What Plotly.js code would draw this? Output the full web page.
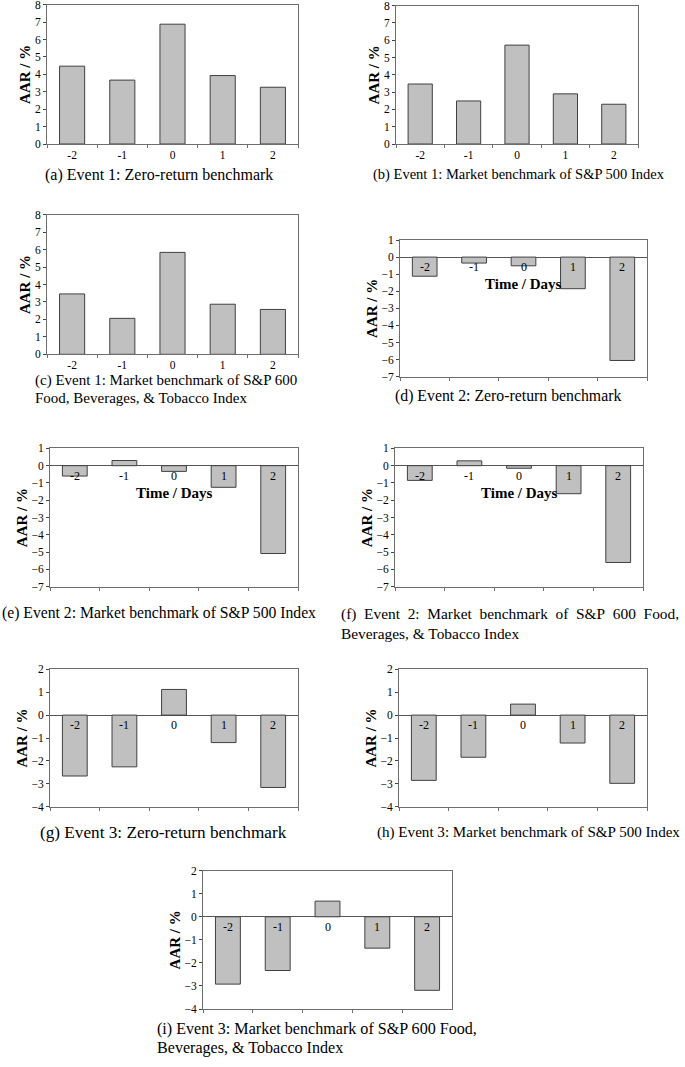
<!DOCTYPE html>
<html>
<head>
<meta charset="utf-8">
<script src="https://cdn.plot.ly/plotly-3.0.1.min.js"></script>
<style>html,body{margin:0;padding:0;background:#fff;}#chart{width:685px;height:1067px;}</style>
</head>
<body>
<div id="chart"></div>
<script>
// ---- data ----
const days = ['-2', '-1', '0', '1', '2'];
const aarA = [4.47, 3.67, 6.88, 3.93, 3.26];
const aarB = [3.47, 2.49, 5.72, 2.90, 2.30];
const aarC = [3.46, 2.06, 5.84, 2.87, 2.57];
const aarD = [-1.12, -0.35, -0.51, -1.85, -6.05];
const aarE = [-0.60, 0.30, -0.33, -1.25, -5.08];
const aarF = [-0.85, 0.28, -0.15, -1.62, -5.60];
const aarG = [-2.66, -2.26, 1.12, -1.20, -3.16];
const aarH = [-2.85, -1.84, 0.48, -1.22, -2.98];
const aarI = [-2.92, -2.33, 0.68, -1.36, -3.19];
const captions = [
  ['(a) Event 1: Zero-return benchmark'],
  ['(b) Event 1: Market benchmark of S&P 500 Index'],
  ['(c) Event 1: Market benchmark of S&P 600', 'Food, Beverages, & Tobacco Index'],
  ['(d) Event 2: Zero-return benchmark'],
  ['(e) Event 2: Market benchmark of S&P 500 Index'],
  ['(f) Event 2: Market benchmark of S&P 600 Food,', 'Beverages, & Tobacco Index'],
  ['(g) Event 3: Zero-return benchmark'],
  ['(h) Event 3: Market benchmark of S&P 500 Index'],
  ['(i) Event 3: Market benchmark of S&P 600 Food,', 'Beverages, & Tobacco Index']
];
const yTitle = 'AAR / %';
const xTitle = 'Time / Days';

// ---- layout geometry (pixels) ----
const W = 685, H = 1067;
const panels = [
  {vals: aarA, x0: 47,  x1: 298, y0: 4.7,   y1: 144,   range: [0, 8],  inside: false, capX: 43,  capY: [175], capSize: 16, wide: []},
  {vals: aarB, x0: 396, x1: 638, y0: 5.7,   y1: 144,   range: [0, 8],  inside: false, capX: 371, capY: [175], capSize: 14.5, wide: []},
  {vals: aarC, x0: 47,  x1: 298, y0: 214.7, y1: 354.3, range: [0, 8],  inside: false, capX: 33,  capY: [380, 398], capSize: 15, wide: []},
  {vals: aarD, x0: 400, x1: 647, y0: 240,   y1: 376.7, range: [-7, 1], inside: true, days: true, capX: 393, capY: [396], capSize: 15.8, wide: []},
  {vals: aarE, x0: 50,  x1: 298, y0: 448.4, y1: 586.7, range: [-7, 1], inside: true, days: true, capX: 0,   capY: [613], capSize: 15.7, wide: []},
  {vals: aarF, x0: 395, x1: 643, y0: 448.4, y1: 586.7, range: [-7, 1], inside: true, days: true, capX: 339, capY: [614, 633], capSize: 15.4, wide: [true, false]},
  {vals: aarG, x0: 50,  x1: 298, y0: 669.3, y1: 806.7, range: [-4, 2], inside: true, capX: 38,  capY: [832], capSize: 17.2, wide: []},
  {vals: aarH, x0: 399, x1: 647, y0: 669.3, y1: 806.7, range: [-4, 2], inside: true, capX: 375, capY: [832], capSize: 15.1, wide: []},
  {vals: aarI, x0: 203, x1: 452, y0: 870.7, y1: 1009,  range: [-4, 2], inside: true, capX: 155, capY: [1029, 1048], capSize: 16.1, wide: []}
];

const serif = 'Liberation Serif, Times New Roman, serif';
const traces = [];
const layout = {
  width: W, height: H,
  margin: {l: 0, r: 0, t: 0, b: 0},
  paper_bgcolor: '#ffffff', plot_bgcolor: '#ffffff',
  showlegend: false,
  bargap: 0.5,
  font: {family: serif, color: '#000'},
  annotations: []
};

panels.forEach((p, i) => {
  const n = i + 1;
  const xa = 'x' + (n === 1 ? '' : n), ya = 'y' + (n === 1 ? '' : n);
  const xk = 'xaxis' + (n === 1 ? '' : n), yk = 'yaxis' + (n === 1 ? '' : n);
  traces.push({
    type: 'bar', x: days, y: p.vals, xaxis: xa, yaxis: ya,
    marker: {color: '#c0c0c0', line: {color: '#404040', width: 1}},
    hoverinfo: 'skip'
  });
  layout[xk] = {
    domain: [p.x0 / W, p.x1 / W], anchor: ya,
    type: 'category', categoryorder: 'array', categoryarray: days,
    range: [-0.5, days.length - 0.5],
    showline: true, linecolor: '#6e6e6e', linewidth: 1, mirror: true,
    showgrid: false, zeroline: false,
    showticklabels: !p.inside,
    ticks: 'outside', tickson: 'boundaries', ticklen: 3, tickcolor: '#6e6e6e',
    tickfont: {family: serif, size: 11.5, color: '#000'},
    fixedrange: true
  };
  layout[yk] = {
    domain: [1 - p.y1 / H, 1 - p.y0 / H], anchor: xa,
    range: p.range, dtick: 1, tick0: 0,
    showline: true, linecolor: '#6e6e6e', linewidth: 1, mirror: true,
    showgrid: false,
    zeroline: p.inside, zerolinecolor: '#555555', zerolinewidth: 1,
    ticks: 'outside', ticklen: 3, tickcolor: '#444',
    ticklabeloverflow: 'allow',
    tickfont: {family: serif, size: 11.5, color: '#000'},
    title: {text: '<b>' + yTitle + '</b>', font: {family: serif, size: 15, color: '#000'}, standoff: 0},
    fixedrange: true
  };
  if (p.inside) {
    days.forEach((d, k) => {
      layout.annotations.push({
        xref: xa, yref: ya, x: k, y: 0, yanchor: 'top', yshift: -1,
        text: d, showarrow: false,
        font: {family: serif, size: 12, color: '#000'}
      });
    });
  }
  if (p.days) {
    layout.annotations.push({
      xref: xa + ' domain', yref: ya, x: 0.5, y: -1.57,
      text: '<b>' + xTitle + '</b>', showarrow: false,
      font: {family: serif, size: 15, color: '#000'}
    });
  }
  captions[i].forEach((line, li) => {
    const txt = p.wide[li] ? line.split(' ').join('&nbsp; ') : line;
    layout.annotations.push({
      xref: 'paper', yref: 'paper', x: p.capX / W, y: 1 - p.capY[li] / H,
      xanchor: 'left', yanchor: 'middle', align: 'left',
      text: txt, showarrow: false,
      font: {family: serif, size: p.capSize, color: '#000'}
    });
  });
});

Plotly.newPlot('chart', traces, layout, {staticPlot: true, displayModeBar: false});
</script>
</body>
</html>
